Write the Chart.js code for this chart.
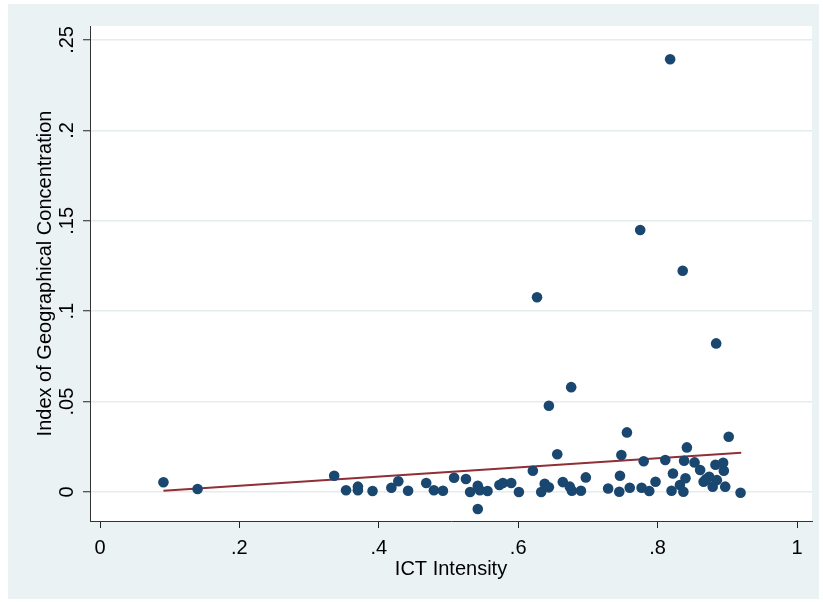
<!DOCTYPE html>
<html>
<head>
<meta charset="utf-8">
<script src="https://cdn.jsdelivr.net/npm/chart.js@4"></script>
<style>
  html, body { margin: 0; padding: 0; background: #fff; }
  #wrap { width: 823px; height: 602px; }
</style>
</head>
<body>
<div id="wrap"><canvas id="chart" width="823" height="602"></canvas></div>
<script>
// ICT intensity (x) and index of geographical concentration (y)
let ictIntensity = [
    0.091, 0.140, 0.336, 0.353, 0.370, 0.370, 0.391, 0.418, 0.428, 0.442,
    0.468, 0.479, 0.492, 0.508, 0.525, 0.531, 0.542, 0.542, 0.545, 0.556,
    0.573, 0.578, 0.590, 0.601, 0.621, 0.627, 0.633, 0.638, 0.644, 0.644,
    0.656, 0.664, 0.674, 0.676, 0.677, 0.690, 0.697, 0.729, 0.745, 0.746,
    0.748, 0.756, 0.760, 0.775, 0.777, 0.780, 0.788, 0.797, 0.811, 0.818,
    0.820, 0.822, 0.832, 0.836, 0.837, 0.838, 0.840, 0.842, 0.853, 0.861,
    0.866, 0.869, 0.874, 0.879, 0.883, 0.884, 0.885, 0.894, 0.895, 0.897,
    0.902, 0.919
];
let geoConc = [
    0.0054, 0.0017, 0.0090, 0.0010, 0.0030, 0.0010, 0.0006, 0.0024, 0.0060, 0.0007,
    0.0050, 0.0010, 0.0007, 0.0079, 0.0072, 0.0000, 0.0035, -0.0094, 0.0010, 0.0006,
    0.0039, 0.0050, 0.0050, 0.0000, 0.0118, 0.1077, 0.0000, 0.0046, 0.0026, 0.0477,
    0.0209, 0.0055, 0.0030, 0.0580, 0.0007, 0.0007, 0.0081, 0.0020, 0.0002, 0.0090,
    0.0205, 0.0330, 0.0024, 0.1449, 0.0024, 0.0170, 0.0006, 0.0057, 0.0177, 0.2393,
    0.0007, 0.0103, 0.0039, 0.1224, 0.0002, 0.0173, 0.0076, 0.0247, 0.0164, 0.0122,
    0.0057, 0.0070, 0.0085, 0.0030, 0.0151, 0.0822, 0.0066, 0.0162, 0.0118, 0.0030,
    0.0306, -0.0004
];

// fitted line, end points as drawn
let fitX = [0.091, 0.920];
let fitY = [0.0007, 0.0217];

let xTickVals = [0, 0.2, 0.4, 0.6, 0.8, 1];
let xTickLabels = ["0", ".2", ".4", ".6", ".8", "1"];
let yTickVals = [0, 0.05, 0.1, 0.15, 0.2, 0.25];
let yTickLabels = ["0", ".05", ".1", ".15", ".2", ".25"];

let points = ictIntensity.map(function(v, i) { return {x: v, y: geoConc[i]}; });
let fitPoints = fitX.map(function(v, i) { return {x: v, y: fitY[i]}; });

const FONT = "'Liberation Sans', Arial, Helvetica, sans-serif";

// stata-like background: light outer region, white plot region
const background = {
    id: "background",
    beforeDraw: function(chart)
    {
        let ctx = chart.ctx;
        let a = chart.chartArea;
        ctx.save();
        ctx.fillStyle = "#ffffff";
        ctx.fillRect(0, 0, chart.width, chart.height);
        ctx.fillStyle = "#EAF2F3";
        ctx.fillRect(8, 4, 811, 595);
        ctx.fillStyle = "#ffffff";
        ctx.fillRect(a.left, a.top, a.right - a.left, a.bottom - a.top);
        ctx.restore();
    }
};

let ctx = document.getElementById("chart").getContext("2d");
let display = new Chart(ctx,
{
    type: "scatter",
    data:
    {
        datasets: [
            {
                label: "Index of Geographical Concentration",
                data: points,
                backgroundColor: "#1A476F",
                borderColor: "#1A476F",
                borderWidth: 0,
                pointRadius: 5.3
            },
            {
                label: "Fitted values",
                data: fitPoints,
                showLine: true,
                borderColor: "#8F2F37",
                borderWidth: 2,
                pointRadius: 0,
                fill: false
            }
        ]
    },
    options:
    {
        responsive: false,
        animation: false,
        layout: { padding: { left: 0, top: 26, right: 11, bottom: 0 } },
        plugins: {
            legend: { display: false },
            tooltip: { enabled: false }
        },
        scales:
        {
            x: {
                type: "linear",
                min: -0.01435,
                max: 1.0215,
                afterBuildTicks: function(axis) { axis.ticks = xTickVals.map(function(v) { return {value: v}; }); },
                afterFit: function(axis) { axis.height = 81; },
                ticks: {
                    font: { family: FONT, size: 20 },
                    color: "#000",
                    padding: 8,
                    maxRotation: 0,
                    minRotation: 0,
                    callback: function(value) { return xTickLabels[xTickVals.indexOf(value)]; }
                },
                grid: {
                    drawOnChartArea: false,
                    drawTicks: true,
                    tickLength: 7,
                    tickColor: "#222",
                    tickWidth: 1
                },
                border: { display: true, color: "#333", width: 1 },
                title: {
                    display: true,
                    text: "ICT Intensity",
                    font: { family: FONT, size: 20 },
                    color: "#000",
                    padding: { top: 0, bottom: 21 }
                }
            },
            y: {
                type: "linear",
                min: -0.016,
                max: 0.2577,
                afterBuildTicks: function(axis) { axis.ticks = yTickVals.map(function(v) { return {value: v}; }); },
                afterFit: function(axis) { axis.width = 90; },
                ticks: {
                    font: { family: FONT, size: 20 },
                    color: "#000",
                    padding: 2,
                    minRotation: 90,
                    maxRotation: 90,
                    crossAlign: "center",
                    callback: function(value) { return yTickLabels[yTickVals.indexOf(value)]; }
                },
                grid: {
                    color: "#E4ECEE",
                    lineWidth: 1.5,
                    drawTicks: true,
                    tickLength: 7,
                    tickColor: "#222",
                    tickWidth: 1
                },
                border: { display: true, color: "#333", width: 1 },
                title: {
                    display: true,
                    text: "Index of Geographical Concentration",
                    font: { family: FONT, size: 20 },
                    color: "#000",
                    padding: { top: 33, bottom: 0 }
                }
            }
        }
    },
    plugins: [background]
});
</script>
</body>
</html>
